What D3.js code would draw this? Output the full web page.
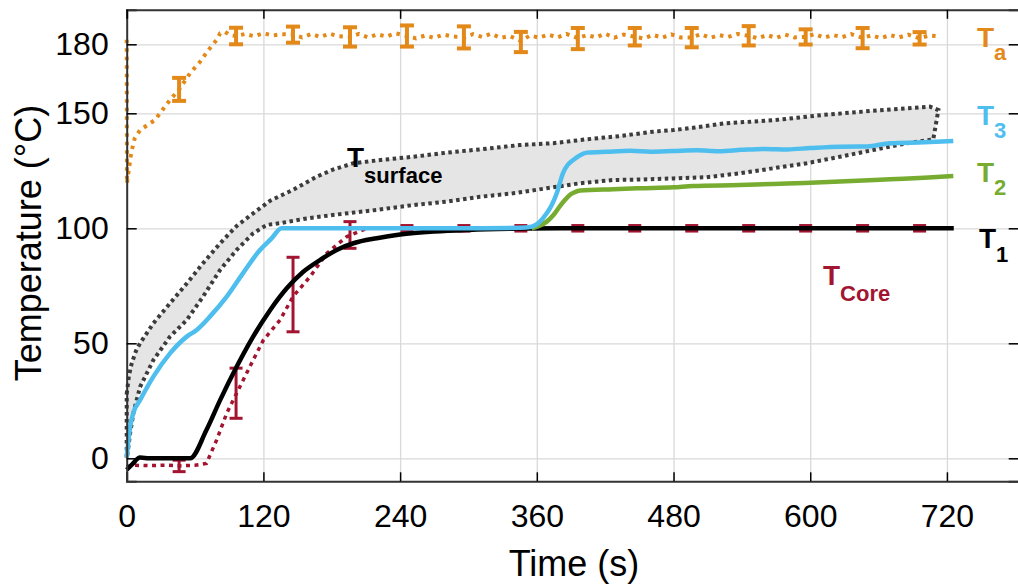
<!DOCTYPE html>
<html>
<head>
<meta charset="utf-8">
<script src="https://cdn.jsdelivr.net/npm/d3@7"></script>
<style>
  body { margin: 0; background: #fff; }
  svg { display: block; font-family: "Liberation Sans", Arial, Helvetica, sans-serif; }
</style>
</head>
<body>
<svg id="chart" width="1018" height="585"></svg>
<script>

// ambient air T_a (dotted orange)
let taTime = [0, 0.2, 2, 4, 7, 11.7, 24.8, 38, 46, 55.6, 64.4, 71.7, 79, 82, 86, 90.7, 96, 104, 112, 120, 128, 136, 146, 154, 162, 170, 178, 186, 196, 204, 212, 220, 228, 236, 246, 254, 262, 270, 278, 286, 296, 304, 312, 320, 328, 336, 346, 354, 362, 370, 378, 386, 396, 404, 412, 420, 428, 436, 446, 454, 462, 470, 478, 486, 496, 504, 512, 520, 528, 536, 546, 554, 562, 570, 578, 586, 596, 604, 612, 620, 628, 636, 646, 654, 662, 670, 678, 686, 696, 704, 712]
let taTemp = [182, 119.5, 126, 133, 139, 142.7, 147.1, 155.8, 160.4, 167.4, 172.4, 177.5, 181.9, 184.8, 185.5, 184, 183.6, 184.5, 183.5, 184.8, 183.8, 184.4, 184.2, 183, 184.5, 183.2, 184.6, 183.5, 183.2, 184.5, 183, 184.3, 183.4, 184.8, 183.6, 182.6, 183.8, 182.8, 184.2, 183.4, 183, 184.4, 183.2, 184.6, 182.8, 183.6, 181.5, 183.8, 182.9, 184.2, 183, 184.5, 182.7, 184, 183, 184.6, 182.9, 184.2, 183.3, 182.5, 184.1, 182.9, 184.3, 183, 183, 184.4, 182.8, 184, 183.2, 184.5, 183.7, 182.6, 184, 182.8, 184.2, 183, 183.2, 184.5, 182.9, 184, 183.1, 184.4, 182.8, 183.9, 182.7, 184, 183, 184.2, 182.6, 183.8, 183.5]

// error bars, shared times for T_a and T_core
let barTime = [46, 96, 146, 196, 246, 296, 346, 396, 446, 496, 546, 596, 646, 696]
let taBarMean = [160.4, 183.6, 184.2, 183.2, 183.6, 183, 181, 182.5, 183.3, 182.9, 183.7, 183.2, 182.7, 182.6]
let taBarErr = [5, 3.6, 3.5, 4.2, 4.6, 4.8, 4.4, 4.6, 3.8, 4.2, 4.2, 3.3, 4.4, 2.7]
let coreBarMean = [-3.3, 28.3, 71.2, 97.1, 100, 100, 100, 100, 100, 100, 100, 100, 100, 100]
let coreBarErr = [2.5, 10.9, 16.2, 5.8, 1.2, 1.2, 1.2, 1.2, 1.2, 1.2, 1.2, 1.2, 1.2, 1.2]

// T_core (dotted dark red)
let coreTime = [0, 5, 20, 35, 46, 60, 70, 79, 87.8, 96.5, 111, 120, 134.6, 146, 161, 175.6, 193, 210.7, 260, 400, 600, 712]
let coreTemp = [-3.6, -3, -3.2, -3, -3.3, -3, -2.2, 8, 19.6, 28.3, 42.7, 51.4, 60.1, 70.3, 79, 89.1, 96.3, 100, 100, 100, 100, 100]

// T_surface band, upper and lower bounds
let surfUpTime = [0, 2, 4.4, 8, 11.7, 23.4, 38, 52.7, 67, 82, 96.5, 111, 126, 146, 167, 181, 199, 223, 251.5, 281, 310, 345, 374.5, 404, 433, 462, 480, 497, 524, 568, 611.5, 655, 685, 705, 712.5]
let surfUpTemp = [28, 36, 41.3, 46.5, 50, 58.7, 67.4, 76, 84.8, 93.5, 101, 106.5, 112, 116.7, 122.5, 125.5, 128.3, 129.7, 131.1, 132.9, 134.3, 136.2, 137, 138.7, 140.1, 142, 142.7, 143.7, 145.6, 147, 149.3, 151.1, 152.2, 152.9, 151.4]
let surfLowTime = [0, 1, 3, 6, 11.7, 23.4, 38, 52.7, 67, 82, 96.5, 111, 123, 134.6, 158, 181, 219.5, 251.6, 281, 310, 339, 368.7, 398, 427, 450, 480, 509, 538, 567.6, 597, 626, 655, 685, 708]
let surfLowTemp = [0, 3, 10.9, 20, 31, 42.7, 52.9, 60.1, 70.3, 81.9, 90.6, 97.8, 101.5, 102.2, 104.3, 105.8, 108, 110.1, 111.6, 113.7, 115.2, 117.4, 119.6, 121, 121.2, 121.7, 122.2, 123.9, 126.1, 128.3, 131.1, 134, 137, 138.7]

// T1, T2, T3 (solid)
let t1Time = [0, 5, 11.7, 20, 55.6, 70, 82, 96.5, 111, 126, 140.5, 155, 169.7, 184.3, 199, 219.5, 240, 270, 300, 340, 380, 726]
let t1Temp = [-5, -2.5, 0.3, 0, 0, 12.3, 25.3, 39.8, 52.9, 64.5, 73.9, 81.1, 86.2, 90.6, 93.5, 95.7, 97.3, 98.6, 99.3, 99.8, 100, 100]
let t2Time = [355.5, 362, 368.7, 375, 380, 385, 389, 393, 398, 427, 450.6, 480, 497, 538, 580, 626, 670, 700, 725.6]
let t2Temp = [100, 101, 102.9, 106, 109.4, 112.5, 114.5, 115.6, 116.4, 117, 117.4, 117.8, 118.4, 118.8, 119.5, 120.3, 121.3, 122, 122.7]
let t3Time = [0, 3, 6, 11.7, 23.4, 38, 52.7, 61.4, 73, 87.8, 102, 117, 127, 136, 200, 300, 345, 355.5, 362, 368.7, 373, 377.5, 383, 387, 392, 398, 404, 421, 442, 460, 480, 500, 520, 540, 560, 580, 600, 626, 650, 670, 700, 725.6]
let t3Temp = [0.5, 13.7, 20, 25.3, 35.5, 45.6, 52.9, 55.8, 61.6, 70.3, 80.4, 90.6, 95.5, 100, 100, 100, 100.2, 100.7, 102.5, 106.5, 110, 115.2, 124, 127.5, 129.7, 131.8, 132.9, 133.3, 133.7, 133.3, 133.6, 133.9, 133.5, 134.1, 134.5, 134.3, 134.9, 135.5, 135.6, 137, 137.4, 138]

let xTicks = [0, 120, 240, 360, 480, 600, 720]
let yTicks = [0, 50, 100, 150, 180]

let orange = "#e3891a"
let blue = "#4dbeee"
let green = "#77ac30"
let darkRed = "#a2142f"

let svg = d3.select("#chart")

let x = d3.scaleLinear().domain([0, 783]).range([126.7, 1018.7])
let y = d3.scaleLinear().domain([-10, 195]).range([481.3, 9.8])

let plotLeft = x(0), plotRight = x(783), plotTop = y(195), plotBottom = y(-10)

// grid
svg.append("g")
   .attr("class", "grid")
   .attr("transform", "translate(0," + plotBottom + ")")
   .call(d3.axisBottom(x).tickValues(xTicks).tickSize(-(plotBottom - plotTop)).tickFormat(""))

svg.append("g")
   .attr("class", "grid")
   .attr("transform", "translate(" + plotLeft + ",0)")
   .call(d3.axisLeft(y).tickValues(yTicks).tickSize(-(plotRight - plotLeft)).tickFormat(""))

svg.selectAll(".grid .domain").remove()
svg.selectAll(".grid line").attr("stroke", "#d9d9d9").attr("stroke-width", 1.3)

let line = d3.line().x(d => x(d[0])).y(d => y(d[1]))

function pairs(ts, vs) {
  return ts.map((t, i) => [t, vs[i]])
}

// surface band
let band = pairs(surfUpTime, surfUpTemp).concat(pairs(surfLowTime, surfLowTemp).reverse())

svg.append("path")
   .datum(band)
   .attr("d", line.curve(d3.curveLinearClosed))
   .attr("fill", "#e5e5e5")
   .attr("stroke", "#3c3c3c")
   .attr("stroke-width", 4)
   .attr("stroke-dasharray", "3.5,3.5")

line.curve(d3.curveLinear)

// T_a
svg.append("path")
   .datum(pairs(taTime, taTemp))
   .attr("d", line)
   .attr("fill", "none")
   .attr("stroke", orange)
   .attr("stroke-width", 4)
   .attr("stroke-dasharray", "3.5,5")

function errorBars(means, errs, colour, width, cap) {

  let g = svg.append("g")
             .attr("stroke", colour)
             .attr("stroke-width", width)

  barTime.forEach(function(t, i) {

    let cx = x(t)
    let hi = y(means[i] + errs[i])
    let lo = y(means[i] - errs[i])

    g.append("line").attr("x1", cx).attr("x2", cx).attr("y1", hi).attr("y2", lo)
    g.append("line").attr("x1", cx - cap).attr("x2", cx + cap).attr("y1", hi).attr("y2", hi)
    g.append("line").attr("x1", cx - cap).attr("x2", cx + cap).attr("y1", lo).attr("y2", lo)

  })

}

errorBars(taBarMean, taBarErr, orange, 4, 7)

// T_core
svg.append("path")
   .datum(pairs(coreTime, coreTemp))
   .attr("d", line)
   .attr("fill", "none")
   .attr("stroke", darkRed)
   .attr("stroke-width", 3.5)
   .attr("stroke-dasharray", "4,4.5")

errorBars(coreBarMean, coreBarErr, darkRed, 3, 6.5)

let solids = [[t1Time, t1Temp, "#000"], [t2Time, t2Temp, green], [t3Time, t3Temp, blue]]

solids.forEach(function(s) {

  svg.append("path")
     .datum(pairs(s[0], s[1]))
     .attr("d", line.curve(d3.curveMonotoneX))
     .attr("fill", "none")
     .attr("stroke", s[2])
     .attr("stroke-width", 4.5)
     .attr("stroke-linejoin", "round")

})

// frame and ticks
let frame = svg.append("g").attr("class", "frame")

frame.append("g")
     .attr("transform", "translate(0," + plotBottom + ")")
     .call(d3.axisBottom(x).tickValues(xTicks).tickSize(-9).tickPadding(23))

frame.append("g")
     .attr("transform", "translate(" + plotLeft + ",0)")
     .call(d3.axisLeft(y).tickValues(yTicks).tickSize(-10).tickPadding(18))

frame.append("g")
     .attr("transform", "translate(0," + plotTop + ")")
     .call(d3.axisTop(x).tickValues(xTicks).tickSize(-9).tickFormat(""))

frame.append("g")
     .attr("transform", "translate(" + plotRight + ",0)")
     .call(d3.axisRight(y).tickValues(yTicks).tickSize(-10).tickFormat(""))

frame.selectAll(".domain").attr("stroke", "#333").attr("stroke-width", 2)
frame.selectAll(".tick line").attr("stroke", "#000").attr("stroke-width", 1.5)
frame.selectAll(".tick text").attr("font-size", 32).attr("fill", "#000")
frame.selectAll("g").attr("font-family", null)

// axis titles
svg.append("text")
   .attr("x", 574)
   .attr("y", 576)
   .attr("text-anchor", "middle")
   .attr("font-size", 36)
   .text("Time (s)")

svg.append("text")
   .attr("transform", "translate(41,243) rotate(-90)")
   .attr("text-anchor", "middle")
   .attr("font-size", 36)
   .text("Temperature (°C)")

// series labels
let labels = [
  ["T", "a", 977, 47, 13, orange],
  ["T", "3", 977, 125, 13, blue],
  ["T", "2", 977, 182, 13, green],
  ["T", "1", 979, 248, 14, "#000"],
  ["T", "Core", 823, 285, 16, darkRed],
  ["T", "surface", 347, 167, 16, "#000"]
]

labels.forEach(function(l) {

  let t = svg.append("text")
             .attr("x", l[2])
             .attr("y", l[3])
             .attr("fill", l[5])
             .attr("font-weight", "bold")

  t.append("tspan").attr("font-size", 28).text(l[0])
  t.append("tspan").attr("font-size", 22).attr("dy", l[4]).text(l[1])

})

</script>
</body>
</html>
